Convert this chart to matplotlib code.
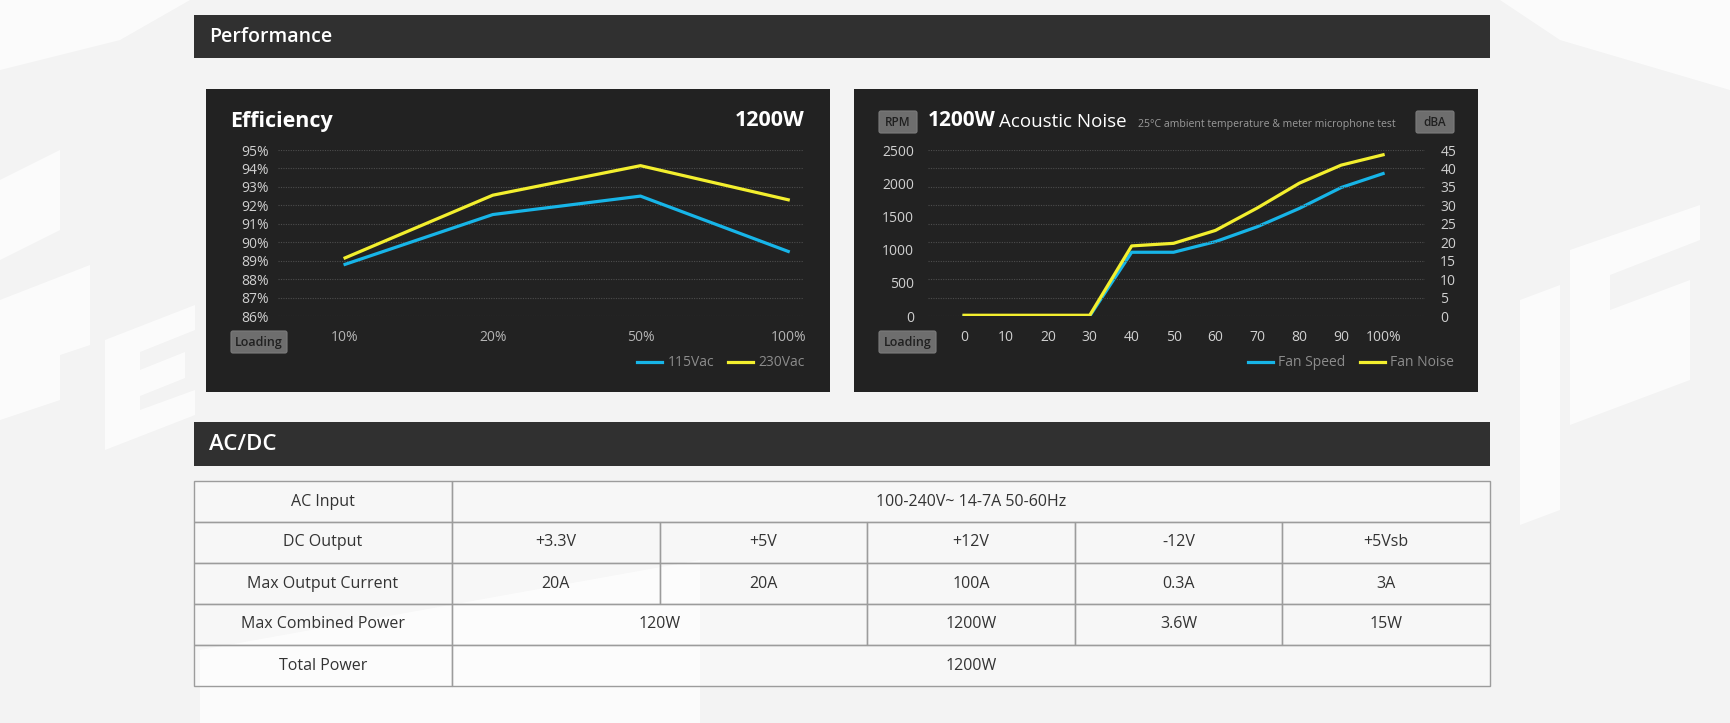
import matplotlib.pyplot as plt
from matplotlib.patches import Rectangle, FancyBboxPatch, Polygon

plt.rcParams['font.family'] = ['Open Sans', 'DejaVu Sans']

W, H = 1730, 723

# efficiency data
eff_loads = ['10%', '20%', '50%', '100%']
eff_115 = [88.8, 91.5, 92.5, 89.5]
eff_230 = [89.15, 92.55, 94.15, 92.3]
eff_ticks = [86, 87, 88, 89, 90, 91, 92, 93, 94, 95]

# acoustic data
load_pct = [0, 10, 20, 30, 40, 50, 60, 70, 80, 90, 100]
fan_speed = [0, 0, 0, 0, 960, 960, 1120, 1345, 1620, 1935, 2145]
fan_noise = [0.2, 0.2, 0.2, 0.2, 19.0, 19.7, 23.2, 29.3, 36.0, 40.9, 43.7]
rpm_ticks = [0, 500, 1000, 1500, 2000, 2500]
dba_ticks = [0, 5, 10, 15, 20, 25, 30, 35, 40, 45]

# table data
row_labels = ['AC Input', 'DC Output', 'Max Output Current', 'Max Combined Power', 'Total Power']
row_cells = [
    [('100-240V~ 14-7A 50-60Hz', 5)],
    [('+3.3V', 1), ('+5V', 1), ('+12V', 1), ('-12V', 1), ('+5Vsb', 1)],
    [('20A', 1), ('20A', 1), ('100A', 1), ('0.3A', 1), ('3A', 1)],
    [('120W', 2), ('1200W', 1), ('3.6W', 1), ('15W', 1)],
    [('1200W', 5)],
]

CYAN = '#17b5e8'
YELLOW = '#f3ef2e'
PANEL = '#222222'
BAR = '#303030'
GRID = '#4d4d4d'


def rect(px, py, pw, ph):
    # pixel box -> figure fraction
    return [px / W, 1 - (py + ph) / H, pw / W, ph / H]


fig = plt.figure(figsize=(W / 100, H / 100), dpi=100)
fig.patch.set_facecolor('#f3f3f3')
renderer = fig.canvas.get_renderer()

bg = fig.add_axes([0, 0, 1, 1], zorder=-1)
bg.set_xlim(0, W)
bg.set_ylim(H, 0)
bg.axis('off')

# faint background block shapes
shapes = [
    [(0, 180), (60, 150), (60, 230), (0, 260)],
    [(0, 300), (90, 265), (90, 345), (60, 355), (60, 400), (0, 420)],
    [(105, 340), (195, 305), (195, 330), (140, 352), (140, 370), (185, 352), (185, 378),
     (140, 396), (140, 410), (195, 390), (195, 415), (105, 450)],
    [(0, 0), (190, 0), (120, 40), (0, 70)],
    [(1520, 300), (1560, 285), (1560, 510), (1520, 525)],
    [(1570, 250), (1700, 205), (1700, 240), (1610, 275), (1610, 310), (1690, 280),
     (1690, 380), (1570, 425)],
    [(1500, 0), (1730, 0), (1730, 90), (1560, 40)],
    [(200, 650), (700, 560), (700, 723), (200, 723)],
]
for s in shapes:
    bg.add_patch(Polygon(s, closed=True, facecolor='white', edgecolor='none', alpha=0.7))

# section bars
bg.add_patch(Rectangle((194, 15), 1296, 43, facecolor=BAR, edgecolor='none'))
bg.text(209, 37, 'Performance', color='white', fontsize=14, fontweight='semibold',
        va='center', ha='left')
bg.add_patch(Rectangle((194, 422), 1296, 44, facecolor=BAR, edgecolor='none'))
bg.text(209, 444, 'AC/DC', color='white', fontsize=16, fontweight='semibold',
        va='center', ha='left')

# chart panels
bg.add_patch(Rectangle((206, 89), 624, 303, facecolor=PANEL, edgecolor='none'))
bg.add_patch(Rectangle((854, 89), 624, 303, facecolor=PANEL, edgecolor='none'))


def tag(x, y, w, h, label, size=8.5):
    bg.add_patch(FancyBboxPatch((x, y), w, h, boxstyle='round,pad=0,rounding_size=2',
                                facecolor='#6e6e6e', edgecolor='#7c7c7c', lw=0.8))
    bg.text(x + w / 2, y + h / 2 + 0.5, label, color='#202020', fontsize=size,
            fontweight='semibold', ha='center', va='center')


# efficiency header
bg.text(230, 121, 'Efficiency', color='white', fontsize=15.5, fontweight='bold',
        ha='left', va='center')
bg.text(805, 121, '1200W', color='white', fontsize=15.5, fontweight='bold',
        ha='right', va='center')
tag(231, 331, 56, 22, 'Loading', 9)

# acoustic header, each piece placed after the previous one
tag(879, 111, 38, 22, 'RPM')
tag(1416, 111, 38, 22, 'dBA')
tag(879, 331, 57, 22, 'Loading', 9)
t1 = bg.text(928, 121, '1200W', color='white', fontsize=15, fontweight='bold',
             ha='left', va='center')
x_next = t1.get_window_extent(renderer).x1 + 3
t2 = bg.text(x_next, 122, 'Acoustic Noise', color='white', fontsize=13.5,
             ha='left', va='center')
x_next = t2.get_window_extent(renderer).x1 + 12
bg.text(x_next, 125, '25\u00b0C ambient temperature & meter microphone test',
        color='#9a9a9a', fontsize=7.6, ha='left', va='center')

# efficiency chart
ax = fig.add_axes(rect(278, 150, 525, 166))
ax.set_facecolor('none')
xs = list(range(len(eff_loads)))
ax.plot(xs, eff_115, color=CYAN, lw=2.3, label='115Vac', solid_joinstyle='miter')
ax.plot(xs, eff_230, color=YELLOW, lw=2.3, label='230Vac', solid_joinstyle='miter')
ax.set_xlim(-0.454, 3.10)
ax.set_ylim(86, 95)
ax.set_yticks(eff_ticks)
ax.set_yticklabels([f'{t}%' for t in eff_ticks])
ax.set_xticks(xs)
ax.set_xticklabels(eff_loads)
ax.grid(axis='y', color=GRID, ls=(0, (1, 1.2)), lw=0.8)
ax.set_axisbelow(True)
for sp in ax.spines.values():
    sp.set_visible(False)
ax.tick_params(axis='y', length=0, pad=6.5, labelsize=10, labelcolor='#cfcfcf')
ax.tick_params(axis='x', length=0, pad=10, labelsize=10, labelcolor='#b5b5b5')
ax.legend(loc='center right', bbox_to_anchor=(805 / W, 1 - 363 / H),
          bbox_transform=fig.transFigure, ncol=2, frameon=False, fontsize=10,
          labelcolor='#8c8c8c', handlelength=1.8, handletextpad=0.4,
          columnspacing=1.0, borderaxespad=0, borderpad=0)

# acoustic chart
a1 = fig.add_axes(rect(928, 150, 497, 166))
a1.set_facecolor('none')
a2 = a1.twinx()
l1, = a1.plot(load_pct, fan_speed, color=CYAN, lw=2.3, label='Fan Speed')
l2, = a2.plot(load_pct, fan_noise, color=YELLOW, lw=2.3, label='Fan Noise')
a1.set_xlim(-8.6, 110)
a1.set_ylim(0, 2500)
a2.set_ylim(0, 45)
a1.set_yticks(rpm_ticks)
a2.set_yticks(dba_ticks)
a1.set_xticks(load_pct)
a1.set_xticklabels([str(p) for p in load_pct[:-1]] + ['100%'])
a2.grid(axis='y', color=GRID, ls=(0, (1, 1.2)), lw=0.8)
a2.set_axisbelow(True)
for a in (a1, a2):
    for sp in a.spines.values():
        sp.set_visible(False)
a1.tick_params(axis='y', length=0, pad=10, labelsize=10, labelcolor='#d0d0d0')
a2.tick_params(axis='y', length=0, pad=11, labelsize=10, labelcolor='#d0d0d0')
a1.tick_params(axis='x', length=0, pad=10, labelsize=10, labelcolor='#d0d0d0')
a2.legend(handles=[l1, l2], loc='center right', bbox_to_anchor=(1454 / W, 1 - 363 / H),
          bbox_transform=fig.transFigure, ncol=2, frameon=False, fontsize=10,
          labelcolor='#8c8c8c', handlelength=1.8, handletextpad=0.4,
          columnspacing=1.0, borderaxespad=0, borderpad=0)

# spec table
x0, x1, x_end = 194, 452, 1490
col_w = (x_end - x1) / 5
y0, row_h = 481, 41
for r, label in enumerate(row_labels):
    top = y0 + r * row_h
    bg.add_patch(Rectangle((x0, top), x1 - x0, row_h, facecolor=(1, 1, 1, 0.35),
                           edgecolor='#9c9c9c', lw=1))
    bg.text((x0 + x1) / 2, top + row_h / 2, label, color='#333333', fontsize=11.5,
            ha='center', va='center')
    c = 0
    for text, span in row_cells[r]:
        left = x1 + c * col_w
        bg.add_patch(Rectangle((left, top), span * col_w, row_h, facecolor=(1, 1, 1, 0.35),
                               edgecolor='#9c9c9c', lw=1))
        bg.text(left + span * col_w / 2, top + row_h / 2, text, color='#333333',
                fontsize=11.5, ha='center', va='center')
        c += span

fig.savefig('out.png', dpi=100, facecolor=fig.get_facecolor())
